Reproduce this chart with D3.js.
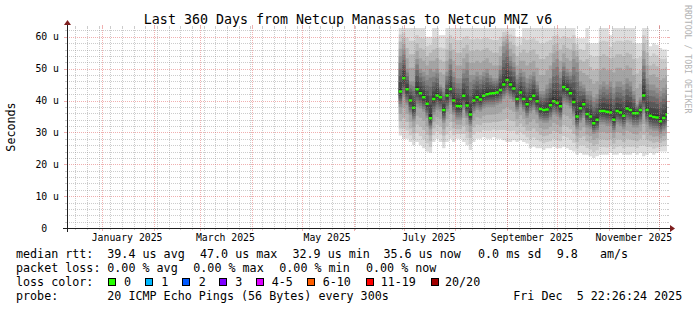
<!DOCTYPE html>
<html><head><meta charset="utf-8">
<script src="https://cdn.jsdelivr.net/npm/d3@7"></script>
<style>
html,body{margin:0;padding:0;background:#fff;}
svg{display:block;}
text{font-family:"DejaVu Sans Mono",monospace;white-space:pre;}
</style></head><body>
<svg id="c" width="697" height="310"></svg>
<script>
// ---------- data ----------
const title = "Last 360 Days from Netcup Manassas to Netcup MNZ v6";
const endTime = "2025-12-05T22:26:24Z";
const spanDays = 360;
const stepStart = "2025-06-28T00:00:00Z";
const stepDays = 2;
const yMax = 62.75;

const median = [42.8,47.0,43.5,40.0,37.7,43.5,42.3,41.0,39.0,34.4,
 40.5,41.6,41.0,37.0,41.6,43.6,40.0,38.3,38.2,41.5,
 38.4,35.6,40.0,41.0,40.3,41.5,42.0,42.2,42.3,42.5,
 43.3,45.0,46.4,45.0,43.8,40.5,42.5,40.5,38.8,40.5,
 41.5,39.8,37.3,37.0,37.2,38.5,39.8,39.3,38.2,44.2,
 43.5,42.3,39.5,35.0,37.6,38.8,35.8,35.0,32.9,34.0,
 36.7,36.7,36.5,36.2,34.0,36.7,36.2,35.2,37.5,37.0,
 36.0,36.0,37.0,41.6,37.0,35.2,34.8,34.7,33.5,34.5,35.6];
const pingLow = [29,28,28,27,26,27,26,25,24,23.5,
 27,28,27,25,27,28,27,28,28,27,
 26,24.5,27,28,28,28.5,28,28,28.5,28,
 28,27.5,27,27,27.5,27,27.5,27,26.5,25,
 25.5,25,25,24.5,25,25,25.5,25,25,25.5,
 25,24.5,24,23,23.5,23,23,22.5,22,22.5,
 23,23,23,23.5,23,23,23.5,23,23,23,
 23.5,23,23.5,22.5,23,23.5,23,23.5,24,24,24];
const pingQ1 = [38.0,41.0,38.5,35.5,33.5,38.0,37.5,36.5,34.5,31.0,
 35.5,37.0,36.5,33.0,36.5,38.5,35.5,34.0,34.0,37.0,
 34.5,32.0,36.0,37.0,36.5,37.5,38.0,38.0,38.0,38.5,
 39.0,40.5,41.5,40.5,39.5,36.5,38.0,36.5,34.5,36.0,
 37.0,35.5,33.5,33.0,33.0,34.0,35.5,35.0,34.0,39.0,
 38.5,37.5,35.0,31.0,33.0,34.5,31.5,31.0,29.5,30.0,
 32.5,32.5,32.0,32.0,30.0,32.5,32.0,31.0,33.0,32.5,
 31.5,31.5,32.5,36.0,32.5,31.0,30.5,30.5,29.5,30.5,31.5];
const pingQ3 = [54,56,50,46,46,53,50,49,48,50,
 49,50,45,44,49,53,49,47,47,50,
 52,48,48,49,48,49,50,48,47,47,
 51,57,58,54,52,48,50,49,47,48,
 49,46,43,43,45,47,52,53,49,52,
 50,49,53,52,46,45,43,43,41,42,
 45,46,45,46,44,46,46,45,47,46,
 43,39,41,53,47,45,45,44,43,44,45];
const pingHigh = [63,63,63,63,63,63,63,63,60,60,
 63,63,60.5,60.5,63,63,63,63,63,63,
 63,63,63,63,63,63,63,63,63,63,
 63,63,63,63,63,60,60,63,63,63,
 63,63,63,63,63,63,63,63,63,63,
 63,63,63,59.5,59.5,59.5,63,58,58,58,
 63,63,63,60.5,63,63,63,63,63,63,
 63,58,58,63,63,57,58,57.5,56.5,56,56];

const yTicks = [0,10,20,30,40,50,60];
const yTickLabels = ["0  ","10 u","20 u","30 u","40 u","50 u","60 u"];
const xLabelDates = ["2025-01-16","2025-03-16","2025-05-16","2025-07-16","2025-09-16","2025-11-16"];
const xLabelTexts = ["January 2025","March 2025","May 2025","July 2025","September 2025","November 2025"];

const lossLabels = ["0","1","2","3","4-5","6-10","11-19","20/20"];
const lossColors = ["#26ff00","#00b8ff","#0059ff","#7e00ff","#dd00ff","#ff5e00","#ff0000","#a10000"];
const smokeShades = ["#dddddd","#cacaca","#b7b7b7","#a4a4a4","#919191","#7e7e7e","#6b6b6b","#585858","#454545","#323232"];

const rttStats = ["39.4 us avg","47.0 us max","32.9 us min","35.6 us now","0.0 ms sd","9.8","am/s"];
const lossStats = ["0.00 % avg","0.00 % max","0.00 % min","0.00 % now"];
const probeText = "20 ICMP Echo Pings (56 Bytes) every 300s";
const stampText = "Fri Dec  5 22:26:24 2025";

// ---------- layout ----------
const X0=67, X1=667, Y0=228, Y1=28;
const svg = d3.select("#c");
svg.append("rect").attr("width",697).attr("height",310).attr("fill","#fff");

const end = new Date(endTime);
const start = new Date(end.getTime() - spanDays*864e5);
const x = d3.scaleUtc().domain([start,end]).range([X0,X1]);
const y = d3.scaleLinear().domain([0,yMax]).range([Y0,Y1]);

const t0 = new Date(stepStart).getTime();
const pts = median.map((m,i)=>({t:new Date(t0+i*stepDays*864e5), lo:pingLow[i], q1:pingQ1[i], m:m, q3:pingQ3[i], hi:pingHigh[i]}));
pts.push(Object.assign({}, pts[pts.length-1], {t:end}));

const ranks = [1,5,10.5,16,20];
function ping(d, r){
  const v=[d.lo,d.q1,d.m,d.q3,d.hi];
  for(let j=0;j<ranks.length-1;j++){
    if(r<=ranks[j+1]){ const f=(r-ranks[j])/(ranks[j+1]-ranks[j]); return v[j]+f*(v[j+1]-v[j]); }
  }
  return v[4];
}

svg.append("defs").append("clipPath").attr("id","clip")
  .append("rect").attr("x",X0).attr("y",Y1).attr("width",X1-X0).attr("height",Y0-Y1);
const plot = svg.append("g").attr("clip-path","url(#clip)");

// smoke
for(let k=1;k<=10;k++){
  const area = d3.area().curve(d3.curveStepAfter)
    .x(d=>x(d.t)).y0(d=>y(ping(d,k))).y1(d=>y(ping(d,21-k)));
  plot.append("path").attr("d",area(pts)).attr("fill",smokeShades[k-1]);
}

// grid
const gGrid = svg.append("g").attr("shape-rendering","crispEdges");
const minorC="rgba(143,143,143,0.45)", majorC="rgba(222,79,79,0.45)";
const px = v=>Math.round(v)+0.5;
d3.utcMonday.range(start,end).forEach(d=>{
  const xx=px(x(d));
  gGrid.append("line").attr("x1",xx).attr("x2",xx).attr("y1",Y1).attr("y2",Y0).attr("stroke",minorC).attr("stroke-dasharray","1,1");
  gGrid.append("line").attr("x1",xx).attr("x2",xx).attr("y1",Y0).attr("y2",Y0+2).attr("stroke",minorC);
  gGrid.append("line").attr("x1",xx).attr("x2",xx).attr("y1",Y1-2).attr("y2",Y1).attr("stroke",minorC);
});
d3.range(2,yMax,2).filter(v=>v%10!==0).forEach(v=>{
  const yy=px(y(v));
  gGrid.append("line").attr("x1",X0).attr("x2",X1).attr("y1",yy).attr("y2",yy).attr("stroke",minorC).attr("stroke-dasharray","1,1");
  gGrid.append("line").attr("x1",X0-2).attr("x2",X0).attr("y1",yy).attr("y2",yy).attr("stroke",minorC);
  gGrid.append("line").attr("x1",X1).attr("x2",X1+2).attr("y1",yy).attr("y2",yy).attr("stroke",minorC);
});
d3.utcMonth.range(start,end).forEach(d=>{
  const xx=px(x(d));
  gGrid.append("line").attr("x1",xx).attr("x2",xx).attr("y1",Y1).attr("y2",Y0).attr("stroke",majorC).attr("stroke-dasharray","1,1");
  gGrid.append("line").attr("x1",xx).attr("x2",xx).attr("y1",Y0).attr("y2",Y0+3).attr("stroke",majorC);
  gGrid.append("line").attr("x1",xx).attr("x2",xx).attr("y1",Y1-3).attr("y2",Y1).attr("stroke",majorC);
});
yTicks.forEach(v=>{
  const yy=px(y(v));
  if(v>0) gGrid.append("line").attr("x1",X0).attr("x2",X1).attr("y1",yy).attr("y2",yy).attr("stroke",majorC).attr("stroke-dasharray","1,1");
  gGrid.append("line").attr("x1",X0-3).attr("x2",X0).attr("y1",yy).attr("y2",yy).attr("stroke",majorC);
  gGrid.append("line").attr("x1",X1).attr("x2",X1+3).attr("y1",yy).attr("y2",yy).attr("stroke",majorC);
});

// median band (loss colour 0)
const band = d3.area().curve(d3.curveStepAfter)
  .x(d=>x(d.t)).y0(d=>y(d.m)+1.25).y1(d=>y(d.m)-1.25);
plot.append("path").attr("d",band(pts)).attr("fill",lossColors[0]);

// axes
const axisC="#1f1f1f", arrowC="#7f1f1f";
svg.append("line").attr("x1",X0-4).attr("x2",X1+4).attr("y1",Y0+0.5).attr("y2",Y0+0.5).attr("stroke",axisC).attr("shape-rendering","crispEdges");
svg.append("line").attr("x1",X0+0.5).attr("x2",X0+0.5).attr("y1",Y0+4).attr("y2",Y1-4).attr("stroke",axisC).attr("shape-rendering","crispEdges");
svg.append("path").attr("d",`M${X1+3},${Y0-3}L${X1+3},${Y0+4}L${X1+8},${Y0+0.5}Z`).attr("fill",arrowC);
svg.append("path").attr("d",`M${X0-3},${Y1-3}L${X0+4},${Y1-3}L${X0+0.5},${Y1-8}Z`).attr("fill",arrowC);

// axis labels
yTicks.forEach((v,i)=>{
  svg.append("text").attr("x",59).attr("y",y(v)).attr("dy","0.36em").attr("text-anchor","end")
    .attr("font-size","9.8px").attr("fill","#000").text(yTickLabels[i]);
});
xLabelDates.forEach((d,i)=>{
  svg.append("text").attr("x",x(new Date(d+"T00:00:00Z"))).attr("y",241).attr("text-anchor","middle")
    .attr("font-size","9.8px").attr("fill","#000").text(xLabelTexts[i]);
});

// title, y label, watermark
svg.append("text").attr("x",348).attr("y",24).attr("text-anchor","middle").attr("font-size","13.3px").attr("fill","#000").text(title);
svg.append("text").attr("transform","translate(15,127) rotate(-90)").attr("text-anchor","middle").attr("font-size","11.7px").attr("fill","#000").text("Seconds");
svg.append("text").attr("transform","translate(685,5) rotate(90)").attr("font-size","8.2px").attr("fill","#b3b3b3").text("RRDTOOL / TOBI OETIKER");

// legend
const lf="11.7px";
function lt(xx,yy,s){ svg.append("text").attr("x",xx).attr("y",yy).attr("font-size",lf).attr("fill","#000").text(s); }
const r1=258, r2=272, r3=286, r4=299.5;
lt(16,r1,"median rtt:");
[107.3,200,292.5,383.5,478,556.7,600].forEach((xx,i)=>lt(xx,r1,rttStats[i]));
lt(16,r2,"packet loss:");
[107.3,193.3,279.3,366].forEach((xx,i)=>lt(xx,r2,lossStats[i]));
lt(16,r3,"loss color:");
const boxX=[108.5,145.5,182.5,219.5,256.5,307.5,366.5,431.5];
const labX=[124,161.3,198.7,235.3,271.7,322.7,380.7,445];
lossLabels.forEach((l,i)=>{
  svg.append("rect").attr("x",boxX[i]).attr("y",278.5).attr("width",7).attr("height",7)
    .attr("fill",lossColors[i]).attr("stroke","#000").attr("stroke-width",1);
  lt(labX[i],r3,l);
});
lt(16,r4,"probe:");
lt(107.3,r4,probeText);
lt(513.3,r4,stampText);
</script>
</body></html>
